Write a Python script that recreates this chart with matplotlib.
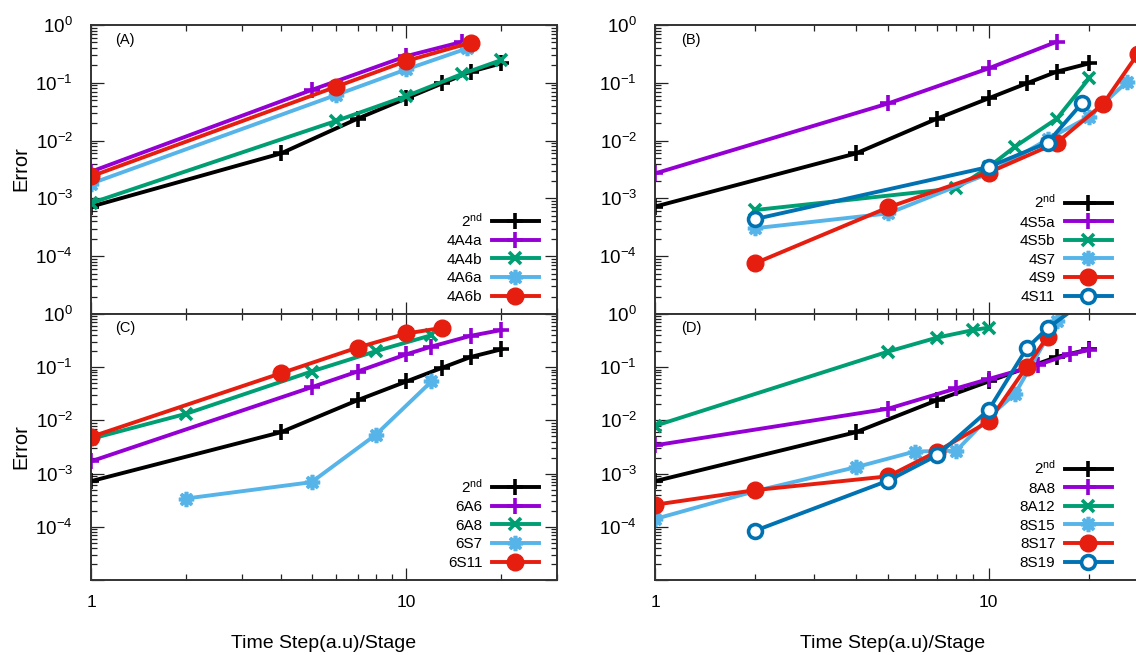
import matplotlib
matplotlib.use("Agg")
import matplotlib.pyplot as plt
from matplotlib.ticker import FixedLocator, FixedFormatter, LogLocator, NullFormatter

plt.rcParams['font.family'] = ['Liberation Sans', 'DejaVu Sans']
plt.rcParams['mathtext.fontset'] = 'custom'
plt.rcParams['mathtext.rm'] = 'Liberation Sans'
plt.rcParams['mathtext.it'] = 'Liberation Sans:italic'
plt.rcParams['mathtext.bf'] = 'Liberation Sans:bold'

# ------------------------------------------------------------------ dados

# referência de 2a ordem (igual nos quatro painéis)
x_2nd = [1, 4, 7, 10, 13, 16, 20]
y_2nd = [7.2e-4, 6.0e-3, 0.024, 0.054, 0.098, 0.156, 0.217]

# (A)
x_4A4a = [1, 5, 10, 15]
y_4A4a = [2.9e-3, 0.075, 0.29, 0.51]
x_4A4b = [1, 6, 10, 15, 20]
y_4A4b = [8.3e-4, 0.022, 0.059, 0.142, 0.248]
x_4A6a = [1, 6, 10, 15.6]
y_4A6a = [1.8e-3, 0.062, 0.171, 0.395]
x_4A6b = [1, 6, 10, 16]
y_4A6b = [2.4e-3, 0.086, 0.239, 0.495]

# (B)
x_4S5a = [1, 5, 10, 16]
y_4S5a = [2.7e-3, 0.044, 0.178, 0.515]
x_4S5b = [2, 8, 10, 12, 16, 20]
y_4S5b = [6.3e-4, 1.5e-3, 3.5e-3, 7.9e-3, 0.024, 0.12]
x_4S7 = [2, 5, 10, 15, 20, 26]
y_4S7 = [3.05e-4, 5.5e-4, 2.7e-3, 0.0105, 0.026, 0.105]
x_4S9 = [2, 5, 10, 16, 22, 28]
y_4S9 = [7.6e-5, 7.0e-4, 2.8e-3, 9.2e-3, 0.043, 0.32]
x_4S11 = [2, 10, 15, 19]
y_4S11 = [4.4e-4, 3.5e-3, 9.2e-3, 0.044]

# (C)
x_6A6 = [1, 5, 7, 10, 12, 16, 20]
y_6A6 = [1.7e-3, 0.042, 0.083, 0.175, 0.244, 0.39, 0.5]
x_6A8 = [1, 2, 5, 8, 12]
y_6A8 = [4.5e-3, 0.0133, 0.083, 0.2, 0.4]
x_6S7 = [2, 5, 8, 12]
y_6S7 = [3.4e-4, 6.9e-4, 5.4e-3, 0.054]
x_6S11 = [1, 4, 7, 10, 13]
y_6S11 = [4.9e-3, 0.077, 0.234, 0.43, 0.55]

# (D)
x_8A8 = [1, 5, 8, 10, 14, 17.5, 20]
y_8A8 = [3.4e-3, 0.0166, 0.040, 0.060, 0.11, 0.175, 0.211]
x_8A12 = [1, 5, 7, 9, 10]
y_8A12 = [7.9e-3, 0.197, 0.36, 0.5, 0.555]
x_8S15 = [1, 2, 4, 6, 8, 10, 12, 16, 19]
y_8S15 = [1.4e-4, 4.7e-4, 1.32e-3, 2.6e-3, 2.7e-3, 0.0115, 0.032, 0.75, 3.0]
x_8S17 = [1, 2, 5, 7, 10, 13, 15]
y_8S17 = [2.6e-4, 4.9e-4, 8.9e-4, 2.6e-3, 9.6e-3, 0.103, 0.376]
x_8S19 = [2, 5, 7, 10, 13, 15, 19]
y_8S19 = [8.5e-5, 7.4e-4, 2.2e-3, 0.0158, 0.227, 0.54, 1.6]

# ------------------------------------------------------------------ estilos (tipo gnuplot)

LW = 2.8
STYLES = {
    'plus_k': dict(color='#000000', marker='+', markersize=11, markeredgewidth=2.6),
    'plus_p': dict(color='#9400D3', marker='+', markersize=11, markeredgewidth=2.6),
    'cross':  dict(color='#009E73', marker='x', markersize=9, markeredgewidth=2.6),
    'star':   dict(color='#56B4E9', marker=(8, 2, 0), markersize=11, markeredgewidth=2.6),
    'dot':    dict(color='#E51E10', marker='o', markersize=12),
    'ring':   dict(color='#0072B2', marker='o', markersize=10, markerfacecolor='white',
                   markeredgewidth=2.6),
}

W, H = 1136, 655
fig = plt.figure(figsize=(W / 100, H / 100), dpi=100)


def make_axes(x0, x1, y0, y1):
    return fig.add_axes([x0 / W, 1 - y1 / H, (x1 - x0) / W, (y1 - y0) / H])


def style_axes(ax, show_x):
    ax.set_xscale('log')
    ax.set_yscale('log')
    ax.set_xlim(1, 30)
    ax.set_ylim(1e-5, 1)
    ax.xaxis.set_major_locator(FixedLocator([1, 10]))
    ax.xaxis.set_major_formatter(FixedFormatter(['1', '10']))
    ax.xaxis.set_minor_locator(FixedLocator([2, 3, 4, 5, 6, 7, 8, 9, 20, 30]))
    ax.xaxis.set_minor_formatter(NullFormatter())
    ax.yaxis.set_major_locator(FixedLocator([1e-5, 1e-4, 1e-3, 1e-2, 1e-1, 1]))
    ax.yaxis.set_major_formatter(FixedFormatter(
        ['', r'$\mathregular{10^{-4}}$', r'$\mathregular{10^{-3}}$',
         r'$\mathregular{10^{-2}}$', r'$\mathregular{10^{-1}}$',
         r'$\mathregular{10^{0}}$']))
    ax.yaxis.set_minor_locator(LogLocator(base=10, subs=range(2, 10), numticks=20))
    ax.yaxis.set_minor_formatter(NullFormatter())
    ax.tick_params(which='both', direction='in', top=True, right=True,
                   width=0.9, colors='#222222', labelcolor='black')
    ax.tick_params(which='major', length=9)
    ax.tick_params(which='minor', length=4.5)
    ax.tick_params(axis='x', pad=11, labelsize=12.5, labelbottom=show_x)
    ax.tick_params(axis='y', pad=13, labelsize=13.5)
    for s in ax.spines.values():
        s.set_linewidth(1.4)
        s.set_color('#333333')


def draw_panel(ax, tag, series, leg_x, leg_y):
    for label, xs, ys, st in series:
        ax.plot(xs, ys, linewidth=LW, label=label, **STYLES[st])
    ax.text(0.073, 0.948, tag, transform=ax.transAxes, fontsize=10.5,
            ha='center', va='center')
    ax.legend(loc='lower right', bbox_to_anchor=(leg_x / W, 1 - leg_y / H),
              bbox_transform=fig.transFigure, frameon=False, markerfirst=False,
              fontsize=11, handlelength=3.1, handletextpad=0.6,
              labelspacing=0.3, borderpad=0, borderaxespad=0)


second = '2$^{\\mathregular{nd}}$'

axA = make_axes(91, 557, 25, 314)
axB = make_axes(655, 1148, 25, 314)
axC = make_axes(91, 557, 314, 580)
axD = make_axes(655, 1148, 314, 580)

for ax, show_x in [(axA, False), (axB, False), (axC, True), (axD, True)]:
    style_axes(ax, show_x)

draw_panel(axA, '(A)', [
    (second, x_2nd, y_2nd, 'plus_k'),
    ('4A4a', x_4A4a, y_4A4a, 'plus_p'),
    ('4A4b', x_4A4b, y_4A4b, 'cross'),
    ('4A6a', x_4A6a, y_4A6a, 'star'),
    ('4A6b', x_4A6b, y_4A6b, 'dot'),
], 539, 304)

draw_panel(axB, '(B)', [
    (second, x_2nd, y_2nd, 'plus_k'),
    ('4S5a', x_4S5a, y_4S5a, 'plus_p'),
    ('4S5b', x_4S5b, y_4S5b, 'cross'),
    ('4S7', x_4S7, y_4S7, 'star'),
    ('4S9', x_4S9, y_4S9, 'dot'),
    ('4S11', x_4S11, y_4S11, 'ring'),
], 1112, 304)

draw_panel(axC, '(C)', [
    (second, x_2nd, y_2nd, 'plus_k'),
    ('6A6', x_6A6, y_6A6, 'plus_p'),
    ('6A8', x_6A8, y_6A8, 'cross'),
    ('6S7', x_6S7, y_6S7, 'star'),
    ('6S11', x_6S11, y_6S11, 'dot'),
], 539, 570)

draw_panel(axD, '(D)', [
    (second, x_2nd, y_2nd, 'plus_k'),
    ('8A8', x_8A8, y_8A8, 'plus_p'),
    ('8A12', x_8A12, y_8A12, 'cross'),
    ('8S15', x_8S15, y_8S15, 'star'),
    ('8S17', x_8S17, y_8S17, 'dot'),
    ('8S19', x_8S19, y_8S19, 'ring'),
], 1112, 570)

fig.text(21 / W, 1 - 169 / H, 'Error', rotation=90, fontsize=14.5, ha='center', va='center')
fig.text(21 / W, 1 - 447 / H, 'Error', rotation=90, fontsize=14.5, ha='center', va='center')
fig.text(324 / W, 1 - 643 / H, 'Time Step(a.u)/Stage', fontsize=14, ha='center', va='center')
fig.text(893 / W, 1 - 643 / H, 'Time Step(a.u)/Stage', fontsize=14, ha='center', va='center')

fig.savefig('out.png', dpi=100)
